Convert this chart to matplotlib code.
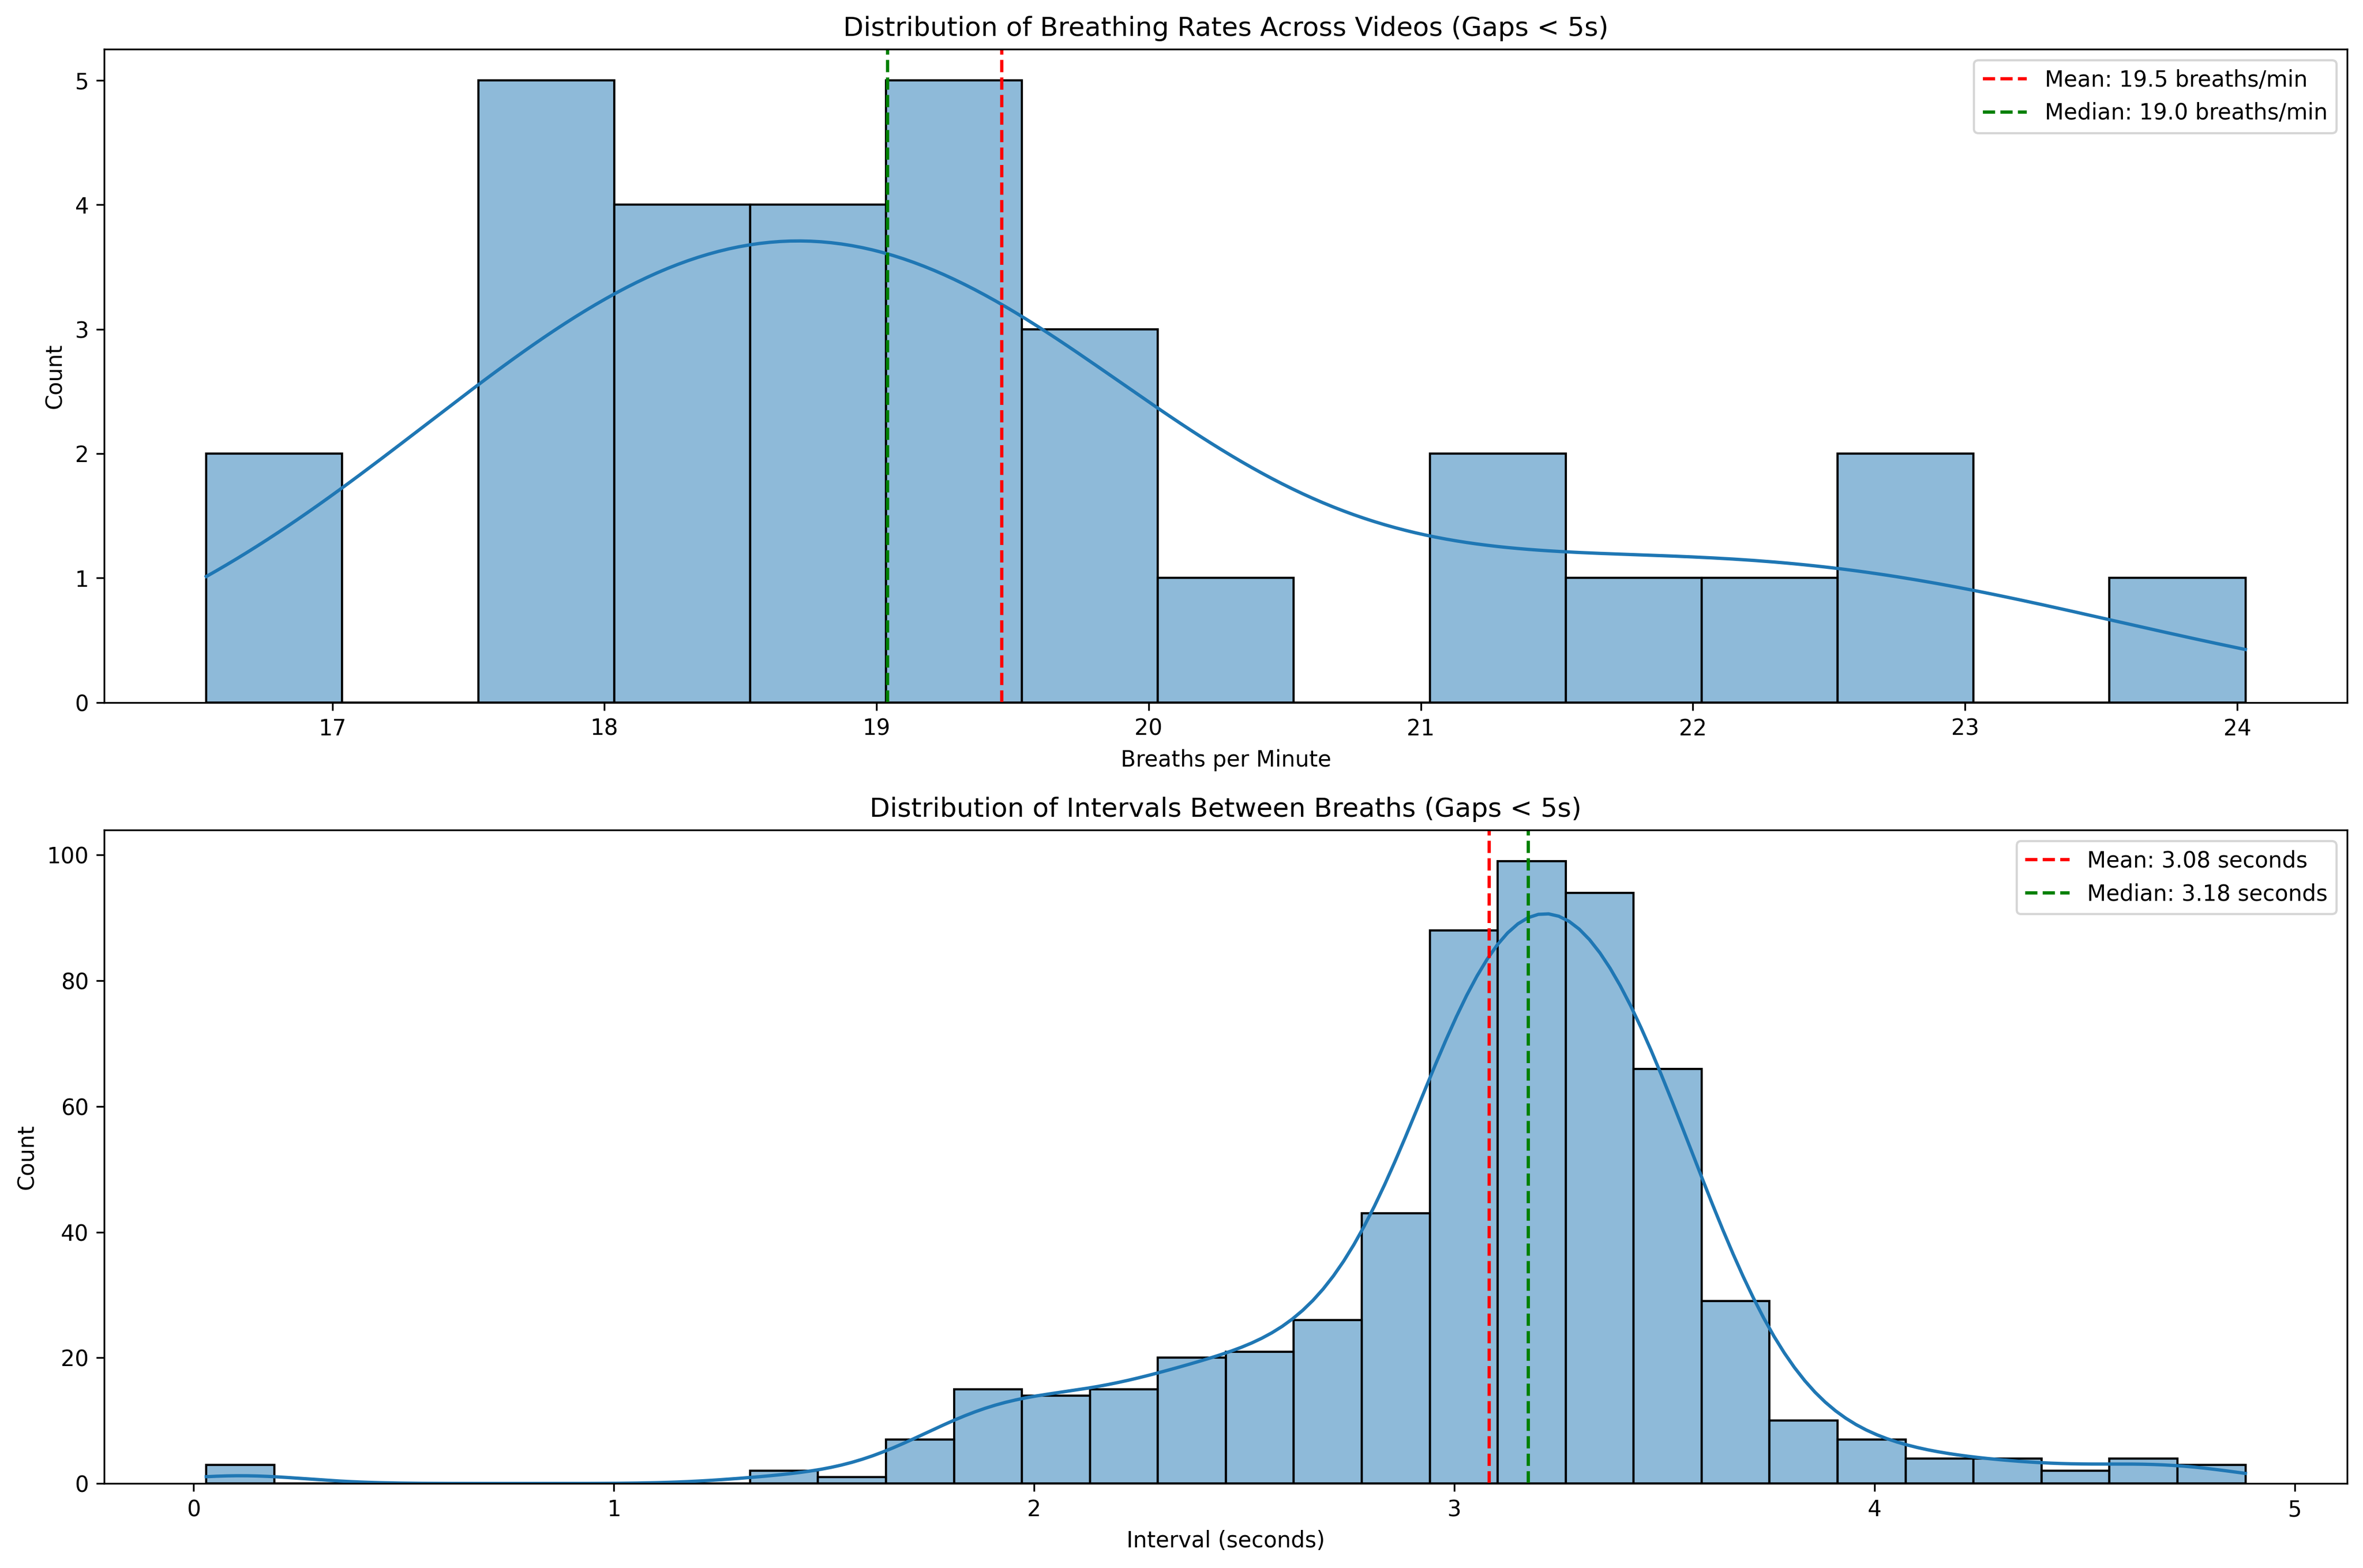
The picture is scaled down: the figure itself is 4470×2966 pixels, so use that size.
import matplotlib
matplotlib.use('Agg')
import matplotlib.pyplot as plt
import seaborn as sns
import numpy as np

# Breathing rate histogram (15 bins)
rate_edges_lo = 16.537
rate_edges_hi = 24.03
rate_counts = [2, 0, 5, 4, 4, 5, 3, 1, 0, 2, 1, 1, 2, 0, 1]
rate_mean = 19.46
rate_median = 19.04

# Interval histogram (30 bins)
interval_edges_lo = 0.030
interval_edges_hi = 4.882
interval_counts = [3, 0, 0, 0, 0, 0, 0, 0, 2, 1,
                   7, 15, 14, 15, 20, 21, 26, 43, 88, 99,
                   94, 66, 29, 10, 7, 4, 4, 2, 4, 3]
interval_mean = 3.082
interval_median = 3.176


def binned_sample(lo, hi, counts):
    """Rebuild a sample at the bin centres so histplot reproduces the counts"""
    edges = np.linspace(lo, hi, len(counts) + 1)
    centres = (edges[:-1] + edges[1:]) / 2
    return np.repeat(centres, counts), edges


rates, rate_edges = binned_sample(rate_edges_lo, rate_edges_hi, rate_counts)
intervals, interval_edges = binned_sample(interval_edges_lo, interval_edges_hi, interval_counts)

fig, (ax1, ax2) = plt.subplots(2, 1, figsize=(15, 10))

# Top: breathing rates
# binning widens the spread a little, so narrow the kde bandwidth to compensate
sns.histplot(rates, bins=rate_edges, kde=True, ax=ax1, edgecolor='black',
             kde_kws={'cut': 3, 'clip': (rate_edges_lo, rate_edges_hi), 'bw_adjust': 0.96})
ax1.axvline(rate_mean, color='red', linestyle='--',
            label=f'Mean: {rate_mean:.1f} breaths/min')
ax1.axvline(rate_median, color='green', linestyle='--',
            label=f'Median: {rate_median:.1f} breaths/min')
ax1.set_title('Distribution of Breathing Rates Across Videos (Gaps < 5s)')
ax1.set_xlabel('Breaths per Minute')
ax1.set_ylabel('Count')
ax1.legend()

# Bottom: intervals between breaths
sns.histplot(intervals, bins=interval_edges, kde=True, ax=ax2, edgecolor='black',
             kde_kws={'cut': 3, 'clip': (interval_edges_lo, interval_edges_hi), 'bw_adjust': 0.97})
ax2.axvline(interval_mean, color='red', linestyle='--',
            label=f'Mean: {interval_mean:.2f} seconds')
ax2.axvline(interval_median, color='green', linestyle='--',
            label=f'Median: {interval_median:.2f} seconds')
ax2.set_title('Distribution of Intervals Between Breaths (Gaps < 5s)')
ax2.set_xlabel('Interval (seconds)')
ax2.set_ylabel('Count')
ax2.legend()

plt.tight_layout()
plt.savefig('out.png', dpi=300, bbox_inches='tight')
